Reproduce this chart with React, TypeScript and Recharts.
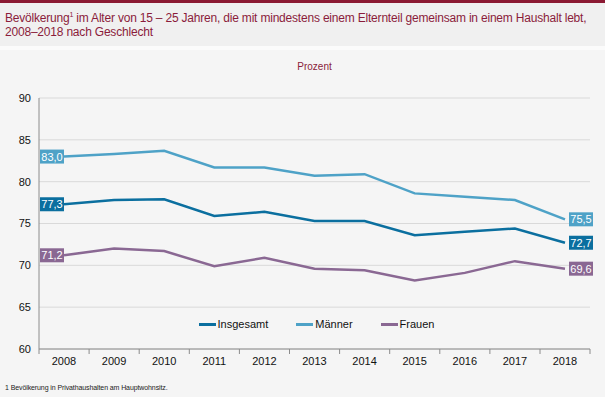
import React from "react";
import {
  LineChart,
  Line,
  XAxis,
  YAxis,
  CartesianGrid,
  Legend,
} from "recharts";

const years = ["2008", "2009", "2010", "2011", "2012", "2013", "2014", "2015", "2016", "2017", "2018"];
const insgesamt = [77.3, 77.8, 77.9, 75.9, 76.4, 75.3, 75.3, 73.6, 74.0, 74.4, 72.7];
const maenner = [83.0, 83.3, 83.7, 81.7, 81.7, 80.7, 80.9, 78.6, 78.2, 77.8, 75.5];
const frauen = [71.2, 72.0, 71.7, 69.9, 70.9, 69.6, 69.4, 68.2, 69.1, 70.5, 69.6];
const yTicks = [60, 65, 70, 75, 80, 85, 90];

const series = [
  { key: "insgesamt", name: "Insgesamt", color: "#0b6f9f" },
  { key: "maenner", name: "Männer", color: "#4ea2c7" },
  { key: "frauen", name: "Frauen", color: "#8a6893" },
];

const data = years.map((year, i) => ({
  year,
  insgesamt: insgesamt[i],
  maenner: maenner[i],
  frauen: frauen[i],
}));

const FONT = '"Liberation Sans", Arial, sans-serif';
const RED = "#8b1c3b";
const PAD = 25;

function XTick(props: any) {
  const { x, y, payload, index } = props;
  const last = index === years.length - 1;
  return (
    <g>
      <line x1={x - PAD} y1={y - 8} x2={x - PAD} y2={y - 3} stroke="#8c8c8c" />
      {last && <line x1={x + PAD} y1={y - 8} x2={x + PAD} y2={y - 3} stroke="#8c8c8c" />}
      <text x={x} y={y + 8} textAnchor="middle" fontSize={11} fill="#111" fontFamily={FONT}>
        {payload.value}
      </text>
    </g>
  );
}

function endLabel(color: string) {
  return (props: any) => {
    const { x, y, value, index } = props;
    if (index !== 0 && index !== years.length - 1) return null;
    const w = 24;
    const bx = index === 0 ? x - w : x + 4;
    return (
      <g>
        <rect x={bx} y={y - 7} width={w} height={14} fill={color} />
        <text x={bx + w / 2} y={y + 4} textAnchor="middle" fontSize={11} fill="#fff" fontFamily={FONT}>
          {value.toFixed(1).replace(".", ",")}
        </text>
      </g>
    );
  };
}

function LegendContent() {
  return (
    <div style={{ display: "flex", justifyContent: "center", gap: 28, fontFamily: FONT, fontSize: 11, color: "#111", paddingLeft: 4 }}>
      {series.map((s) => (
        <div key={s.key} style={{ display: "flex", alignItems: "center" }}>
          <span style={{ display: "inline-block", width: 17, height: 3, background: s.color, marginRight: 2 }} />
          {s.name}
        </div>
      ))}
    </div>
  );
}

export default function App() {
  return (
    <div style={{ position: "absolute", left: 0, top: 0, width: 605, height: 397, background: "#f5f5f5", fontFamily: FONT, overflow: "hidden" }}>
      <div style={{ position: "absolute", left: 0, top: 0, width: 605, height: 3, background: "#8b1a33" }} />
      <div style={{ position: "absolute", left: 0, top: 3, width: 605, height: 43, background: "#f0f0f0" }} />
      <div style={{ position: "absolute", left: 0, top: 46, width: 605, height: 4, background: "#fbfbfb" }} />
      <div style={{ position: "absolute", left: 5, top: 11, fontSize: 12, lineHeight: "14px", color: RED, letterSpacing: -0.2, whiteSpace: "nowrap" }}>
        Bevölkerung<sup style={{ fontSize: 7, lineHeight: 0 }}>1</sup> im Alter von 15 – 25 Jahren, die mit mindestens einem Elternteil gemeinsam in einem Haushalt lebt,
        <br />
        2008–2018 nach Geschlecht
      </div>
      <div style={{ position: "absolute", left: 39, width: 551, top: 61, textAlign: "center", fontSize: 10, color: RED }}>
        Prozent
      </div>
      <div style={{ position: "absolute", left: 0, top: 0 }}>
        <LineChart width={605} height={397} data={data} margin={{ top: 98, right: 15, left: 0, bottom: 0 }}>
          <CartesianGrid vertical={false} stroke="#d9d9d9" />
          <XAxis
            dataKey="year"
            padding={{ left: PAD, right: PAD }}
            height={48}
            axisLine={{ stroke: "#8c8c8c" }}
            tickLine={false}
            interval={0}
            tick={<XTick />}
          />
          <YAxis
            width={39}
            domain={[60, 90]}
            ticks={yTicks}
            axisLine={{ stroke: "#8c8c8c" }}
            tickLine={false}
            tick={{ fontSize: 11, fill: "#111", fontFamily: FONT }}
          />
          <Legend
            layout="horizontal"
            verticalAlign="middle"
            align="center"
            wrapperStyle={{ top: 318, left: 39, width: 551 }}
            content={<LegendContent />}
          />
          {series.map((s) => (
            <Line
              key={s.key}
              dataKey={s.key}
              name={s.name}
              stroke={s.color}
              strokeWidth={2.5}
              dot={false}
              activeDot={false}
              isAnimationActive={false}
              label={endLabel(s.color)}
            />
          ))}
        </LineChart>
      </div>
      <div style={{ position: "absolute", left: 5, top: 384, fontSize: 7, color: "#222", letterSpacing: -0.1, whiteSpace: "nowrap" }}>
        1 Bevölkerung in Privathaushalten am Hauptwohnsitz.
      </div>
    </div>
  );
}
